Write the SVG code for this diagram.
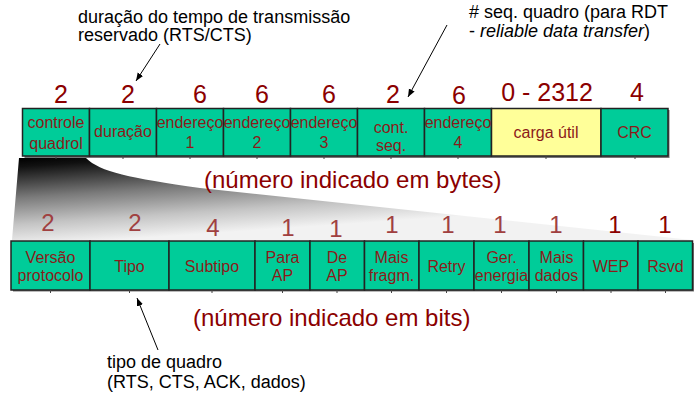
<svg xmlns="http://www.w3.org/2000/svg" width="698" height="402" viewBox="0 0 698 402">
<style>
  text { font-family: "Liberation Sans", Arial, sans-serif; }
  .box { fill: #00CC99; stroke: #222; stroke-width: 1.5; }
  .pay { fill: #FFFF99; stroke: #222; stroke-width: 1.5; }
  .lbl { font-size: 16px; fill: #8B1A1A; text-anchor: middle; }
  .num { font-size: 25px; fill: #8B0000; text-anchor: middle; }
  .bnum { font-size: 24px; fill: #A04040; text-anchor: middle; }
  .bnum2 { font-size: 24px; fill: #8B0000; text-anchor: middle; }
  .note { font-size: 18px; fill: #000; }
  .unit { font-size: 24px; fill: #8B0000; }
  .arr { stroke: #000; stroke-width: 1; fill: none; marker-end: url(#ah); }
  .tick { stroke: #444; stroke-width: 1; }
</style>
<defs>
  <marker id="ah" viewBox="0 0 10 10" refX="10" refY="5" markerWidth="8" markerHeight="8" markerUnits="userSpaceOnUse" orient="auto">
    <path d="M0,1 L10,5 L0,9 Z" fill="#000"/>
  </marker>
  <linearGradient id="fan" gradientUnits="userSpaceOnUse" x1="19" y1="158" x2="25" y2="246">
    <stop offset="0" stop-color="#000"/>
    <stop offset="0.1" stop-color="#111"/>
    <stop offset="0.45" stop-color="#7a7a7a"/>
    <stop offset="0.75" stop-color="#c4c4c4"/>
    <stop offset="1" stop-color="#f2f2f2"/>
  </linearGradient>
</defs>

<!-- expansion fan -->
<path id="fan-shape" d="M19,158 L86,158 C100,172 130,178 200,188 L692,240 L12,240 Z" fill="url(#fan)"/>

<!-- annotations -->
<g id="note-duracao">
  <text class="note" x="78" y="23">duração do tempo de transmissão</text>
  <text class="note" x="78" y="41">reservado (RTS/CTS)</text>
</g>
<g id="note-seq">
  <text class="note" x="469" y="18"># seq. quadro (para RDT</text>
  <text class="note" x="469" y="37">- <tspan font-style="italic">reliable data transfer</tspan>)</text>
</g>
<g id="note-tipo">
  <text class="note" x="107" y="368">tipo de quadro</text>
  <text class="note" x="107" y="388">(RTS, CTS, ACK, dados)</text>
</g>

<!-- top row numbers -->
<g id="top-numbers">
  <text class="num" x="61" y="103">2</text>
  <text class="num" x="128" y="103">2</text>
  <text class="num" x="200" y="103">6</text>
  <text class="num" x="262" y="103">6</text>
  <text class="num" x="329" y="103">6</text>
  <text class="num" x="393" y="103">2</text>
  <text class="num" x="459" y="104">6</text>
  <text class="num" x="547" y="101">0 - 2312</text>
  <text class="num" x="637" y="101">4</text>
</g>

<!-- top row -->
<g id="top-row">
  <rect x="24.5" y="110" width="645" height="48" fill="#777"/>
  <g id="f-controle"><rect class="box" x="22.5" y="108.5" width="67" height="47.5"/><text class="lbl" x="56" y="128">controle</text><text class="lbl" x="56" y="149">quadrol</text></g>
  <g id="f-duracao"><rect class="box" x="89.5" y="108.5" width="67" height="47.5"/><text class="lbl" x="123" y="137">duração</text></g>
  <g id="f-end1"><rect class="box" x="156.5" y="108.5" width="67" height="47.5"/><text class="lbl" x="190" y="128">endereço</text><text class="lbl" x="190" y="148">1</text></g>
  <g id="f-end2"><rect class="box" x="223.5" y="108.5" width="67" height="47.5"/><text class="lbl" x="257" y="128">endereço</text><text class="lbl" x="257" y="148">2</text></g>
  <g id="f-end3"><rect class="box" x="290.5" y="108.5" width="67" height="47.5"/><text class="lbl" x="324" y="128">endereço</text><text class="lbl" x="324" y="148">3</text></g>
  <g id="f-seq"><rect class="box" x="357.5" y="108.5" width="67" height="47.5"/><text class="lbl" x="391" y="133">cont.</text><text class="lbl" x="391" y="151">seq.</text></g>
  <g id="f-end4"><rect class="box" x="424.5" y="108.5" width="67" height="47.5"/><text class="lbl" x="458" y="128">endereço</text><text class="lbl" x="458" y="148">4</text></g>
  <g id="f-carga"><rect class="pay" x="491.5" y="108.5" width="109.5" height="47.5"/><text class="lbl" x="546" y="138">carga útil</text></g>
  <g id="f-crc"><rect class="box" x="601" y="108.5" width="67" height="47.5"/><text class="lbl" x="634.5" y="138">CRC</text></g>
  <g id="top-ticks" class="tick">
    <line x1="56" y1="156" x2="56" y2="159"/><line x1="123" y1="156" x2="123" y2="159"/><line x1="190" y1="156" x2="190" y2="159"/><line x1="257" y1="156" x2="257" y2="159"/><line x1="324" y1="156" x2="324" y2="159"/><line x1="391" y1="156" x2="391" y2="159"/><line x1="458" y1="156" x2="458" y2="159"/><line x1="546" y1="156" x2="546" y2="159"/><line x1="635" y1="156" x2="635" y2="159"/>
  </g>
</g>

<text id="unit-bytes" class="unit" x="204" y="188">(número indicado em bytes)</text>

<!-- bottom numbers -->
<g id="bottom-numbers">
  <text class="bnum" x="48" y="231">2</text>
  <text class="bnum" x="135" y="231">2</text>
  <text class="bnum" x="213" y="236">4</text>
  <text class="bnum" x="288" y="236">1</text>
  <text class="bnum" x="336" y="237">1</text>
  <text class="bnum" x="392" y="233">1</text>
  <text class="bnum" x="448" y="233">1</text>
  <text class="bnum" x="500" y="233">1</text>
  <text class="bnum" x="556" y="233">1</text>
  <text class="bnum2" x="615" y="233">1</text>
  <text class="bnum2" x="665" y="233">1</text>
</g>

<!-- bottom row -->
<g id="bottom-row">
  <rect x="13" y="243" width="681" height="48.5" fill="#777"/>
  <g id="b-versao"><rect class="box" x="11" y="241" width="79" height="49"/><text class="lbl" x="50.5" y="263">Versão</text><text class="lbl" x="50.5" y="281">protocolo</text></g>
  <g id="b-tipo"><rect class="box" x="90" y="241" width="79" height="49"/><text class="lbl" x="129.5" y="272">Tipo</text></g>
  <g id="b-subtipo"><rect class="box" x="169" y="241" width="86" height="49"/><text class="lbl" x="212" y="272">Subtipo</text></g>
  <g id="b-para"><rect class="box" x="255" y="241" width="55" height="49"/><text class="lbl" x="282.5" y="263">Para</text><text class="lbl" x="282.5" y="281">AP</text></g>
  <g id="b-de"><rect class="box" x="310" y="241" width="54.5" height="49"/><text class="lbl" x="337" y="263">De</text><text class="lbl" x="337" y="281">AP</text></g>
  <g id="b-fragm"><rect class="box" x="364.5" y="241" width="54.5" height="49"/><text class="lbl" x="391.5" y="263">Mais</text><text class="lbl" x="391.5" y="281">fragm.</text></g>
  <g id="b-retry"><rect class="box" x="419" y="241" width="55" height="49"/><text class="lbl" x="446.5" y="272">Retry</text></g>
  <g id="b-energia"><rect class="box" x="474" y="241" width="55" height="49"/><text class="lbl" x="501.5" y="263">Ger.</text><text class="lbl" x="501.5" y="281">energia</text></g>
  <g id="b-dados"><rect class="box" x="529" y="241" width="54.5" height="49"/><text class="lbl" x="556.5" y="263">Mais</text><text class="lbl" x="556.5" y="281">dados</text></g>
  <g id="b-wep"><rect class="box" x="583.5" y="241" width="54.5" height="49"/><text class="lbl" x="611" y="272">WEP</text></g>
  <g id="b-rsvd"><rect class="box" x="638" y="241" width="54.5" height="49"/><text class="lbl" x="665.5" y="272">Rsvd</text></g>
  <g id="bottom-ticks" class="tick">
    <line x1="50.5" y1="290" x2="50.5" y2="293"/><line x1="129.5" y1="290" x2="129.5" y2="293"/><line x1="212" y1="290" x2="212" y2="293"/><line x1="282.5" y1="290" x2="282.5" y2="293"/><line x1="337" y1="290" x2="337" y2="293"/><line x1="391.5" y1="290" x2="391.5" y2="293"/><line x1="446.5" y1="290" x2="446.5" y2="293"/><line x1="501.5" y1="290" x2="501.5" y2="293"/><line x1="556.5" y1="290" x2="556.5" y2="293"/><line x1="611" y1="290" x2="611" y2="293"/><line x1="665.5" y1="290" x2="665.5" y2="293"/>
  </g>
</g>

<text id="unit-bits" class="unit" x="193" y="326">(número indicado em bits)</text>

<!-- connectors -->
<g id="connectors">
  <line class="arr" x1="160" y1="44" x2="136" y2="81"/>
  <line class="arr" x1="447" y1="25" x2="408" y2="97"/>
  <line class="arr" x1="158" y1="350" x2="137" y2="298"/>
</g>
</svg>
